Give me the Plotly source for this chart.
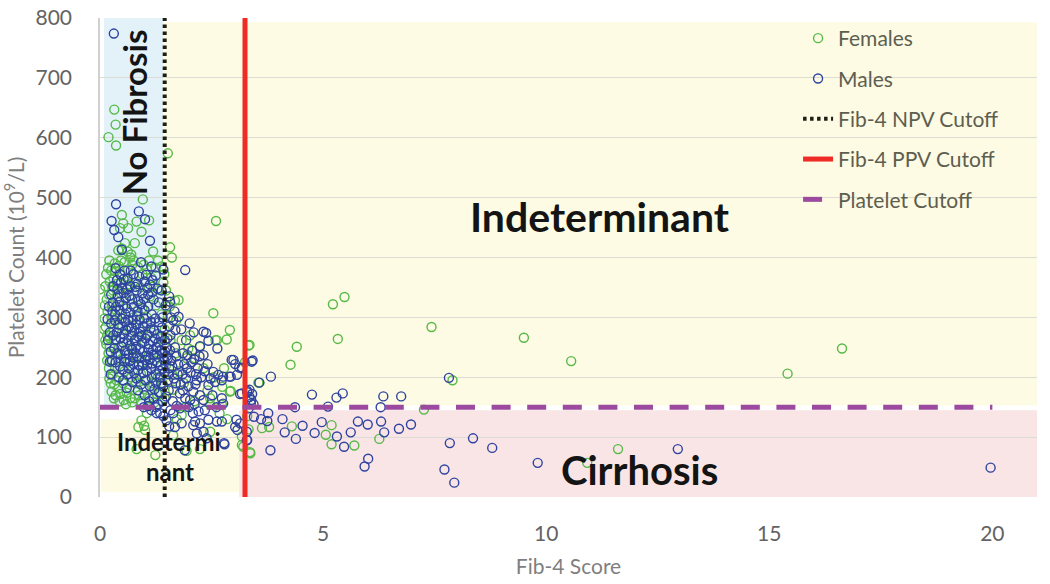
import plotly.graph_objects as go

# ---------------- data ----------------
npv_cutoff = 1.45
ppv_cutoff = 3.25
platelet_cutoff = 150

x_ticks = [0, 5, 10, 15, 20]
y_ticks = [0, 100, 200, 300, 400, 500, 600, 700, 800]

females = [
    (0.32, 647), (0.35, 622), (0.19, 601), (0.36, 587), (1.52, 574), (0.96, 497), (2.60, 461),
    (0.49, 471), (0.52, 457), (0.63, 449), (0.45, 449), (0.82, 460), (1.10, 462), (0.93, 443),
    (0.56, 424), (0.78, 424), (0.41, 412), (0.49, 415), (0.70, 405),
    (1.57, 417), (1.61, 400), (0.00, 347), (1.68, 328), (2.54, 307), (2.91, 279), (2.84, 263),
    (2.02, 270), (2.59, 262), (3.33, 253), (3.55, 191), (2.93, 177), (2.74, 184), (2.47, 154),
    (3.18, 101), (3.18, 87), (3.36, 75), (1.94, 77), (2.24, 80), (2.47, 109), (1.64, 103),
    (0.82, 80), (1.24, 70), (0.86, 117), (0.93, 128), (1.01, 112), (0.99, 119), (1.05, 140),
    (1.76, 329), (1.50, 318), (2.06, 245), (1.94, 232), (2.24, 251), (2.62, 262), (2.91, 176),
    (2.47, 165), (2.73, 154), (1.83, 137), (1.64, 179),
    (3.35, 254), (3.25, 225), (5.22, 322), (5.48, 334), (5.33, 264), (4.41, 251), (4.27, 221),
    (3.57, 191), (3.79, 117), (3.63, 115), (3.33, 113), (4.30, 118), (5.19, 120), (5.06, 104),
    (5.19, 88), (5.70, 86), (6.26, 97), (3.37, 73), (3.21, 84), (3.30, 135),
    (7.43, 284), (9.50, 266), (10.56, 227), (7.90, 195), (7.26, 146), (11.61, 80), (10.92, 57),
    (16.63, 248), (15.41, 206),
    (0.18, 383), (0.25, 378), (0.33, 390), (0.42, 386), (0.55, 392), (0.63, 380), (0.72, 388),
    (0.85, 384), (0.95, 372), (1.05, 380), (1.15, 366), (1.25, 383), (0.68, 400),
    (0.30, 365), (0.48, 370), (0.12, 352), (0.22, 360), (0.38, 356), (0.58, 362), (0.78, 358),
    (0.90, 350), (1.20, 352), (1.32, 346), (1.42, 358),
    (0.13, 284), (0.22, 265), (0.22, 251), (0.34, 215), (0.37, 195), (0.41, 181), (0.60, 174),
    (0.78, 165), (0.17, 310), (0.10, 298), (0.15, 330), (0.20, 338), (0.27, 320), (0.16, 270),
    (0.19, 240), (0.25, 228), (0.28, 205), (0.32, 188), (0.45, 172), (0.52, 190), (0.66, 182),
    (0.88, 170), (0.98, 180), (1.10, 165), (1.22, 158), (1.35, 175),
    (0.26, 300), (0.31, 280), (0.35, 262), (0.29, 345), (0.40, 325), (0.45, 305), (0.50, 285),
    (0.43, 250), (0.48, 230), (0.55, 210), (0.62, 225), (0.70, 200), (0.80, 190), (0.92, 205),
    (1.05, 195), (1.18, 190), (1.30, 200), (1.40, 190),
    (0.60, 340), (0.70, 322), (0.75, 300), (0.85, 330), (0.95, 315), (1.05, 300), (1.12, 335),
    (1.25, 320), (1.38, 305), (1.45, 280), (1.35, 265), (1.28, 250), (1.15, 275), (1.00, 260),
    (0.88, 280), (0.65, 270), (0.58, 245), (0.72, 248), (0.82, 232), (0.95, 225), (1.08, 235),
    (1.22, 228), (1.40, 240), (1.48, 220), (1.52, 300), (1.58, 262), (1.70, 240), (1.62, 205),
    (1.78, 210), (1.88, 190),
    (0.20, 215), (0.24, 190), (0.35, 170), (0.53, 162), (0.14, 255), (0.38, 300), (0.47, 340),
    (0.36, 240), (0.66, 355), (1.10, 395), (1.38, 385),
    (0.14, 372), (0.21, 395), (0.27, 352), (0.34, 377), (0.11, 320), (0.09, 280), (0.12, 262),
    (0.16, 228), (0.21, 198), (0.26, 176), (0.31, 165), (0.44, 160), (0.58, 155), (0.72, 158),
    (0.47, 395), (0.62, 410), (0.75, 395), (0.98, 388), (1.19, 410), (1.30, 395), (1.44, 372),
    (1.48, 345), (1.56, 318), (1.71, 295), (1.83, 262), (1.98, 248), (2.12, 232), (2.32, 215),
    (2.55, 200), (2.78, 215), (2.41, 178), (2.12, 160), (1.91, 150), (2.68, 140), (2.85, 130),
    (1.72, 130), (0.92, 160), (0.68, 165), (1.28, 172), (1.45, 165),
]

males = [
    (0.31, 774), (0.36, 489), (0.87, 477), (0.26, 461), (0.32, 446), (0.41, 434), (1.01, 464),
    (1.12, 428), (0.49, 413), (1.91, 379),
    (1.57, 326), (1.76, 301), (1.64, 295), (2.38, 274), (2.43, 261), (2.24, 252), (2.63, 248),
    (2.07, 244), (1.96, 237), (2.23, 235), (2.32, 237), (2.95, 229), (3.03, 222), (3.42, 228),
    (3.18, 215), (2.54, 209), (2.65, 204), (2.76, 201), (2.90, 201), (3.07, 204), (2.58, 192),
    (2.73, 165), (2.76, 156), (3.14, 172), (3.30, 175), (3.35, 167), (3.38, 156), (3.33, 148),
    (2.17, 195), (2.43, 187), (2.09, 176), (2.24, 170), (2.32, 162), (1.79, 173), (1.91, 165),
    (2.02, 162), (1.64, 140), (1.79, 148), (2.08, 140), (2.13, 126), (2.24, 123), (2.09, 120),
    (2.43, 129), (2.62, 126), (2.73, 126), (1.68, 117), (1.83, 123), (3.06, 129), (3.14, 123),
    (3.03, 117), (3.08, 112), (3.29, 109), (3.30, 95), (2.78, 90), (2.17, 106), (2.32, 109),
    (2.39, 98), (2.79, 88), (1.90, 78), (1.27, 140), (1.35, 140),
    (2.32, 276), (2.99, 229), (3.12, 216), (2.93, 201), (2.73, 195), (3.35, 179),
    (3.40, 226), (3.18, 216), (3.83, 201), (3.57, 191), (3.30, 177), (3.41, 172), (3.18, 173),
    (3.39, 162), (3.44, 155), (4.75, 171), (5.30, 166), (5.44, 173), (4.37, 150), (5.11, 151),
    (6.35, 168), (6.75, 168), (6.29, 150), (3.77, 140), (3.45, 134), (3.61, 130), (3.75, 127),
    (4.09, 130), (4.54, 119), (4.14, 108), (4.39, 97), (4.97, 125), (4.81, 107), (5.31, 101),
    (5.47, 84), (5.62, 108), (5.78, 126), (6.00, 121), (6.30, 126), (6.37, 108), (6.70, 114),
    (6.97, 121), (6.01, 64), (5.93, 51), (3.82, 78), (3.29, 95),
    (7.82, 199), (7.84, 90), (8.36, 98), (8.79, 82), (7.72, 46), (7.94, 24), (9.81, 57),
    (12.95, 80), (19.96, 49),
    (0.17, 297), (0.22, 226), (0.24, 243), (0.22, 275), (0.18, 262), (0.27, 228), (0.24, 205),
    (0.35, 382), (0.45, 372), (0.55, 378), (0.62, 365), (0.75, 372), (0.88, 368), (1.00, 360),
    (1.12, 355), (1.25, 370), (1.38, 345), (0.30, 352), (0.50, 348), (0.68, 352), (0.82, 345),
    (0.95, 340), (1.08, 338), (1.20, 330), (1.32, 325), (0.25, 338), (0.40, 335), (0.58, 332),
    (0.72, 330), (1.15, 385), (0.92, 392), (1.42, 380),
    (0.20, 318), (0.28, 310), (0.36, 318), (0.44, 312), (0.52, 320), (0.60, 315), (0.68, 308),
    (0.76, 318), (0.84, 310), (0.92, 322), (1.00, 312), (1.08, 318), (1.16, 305), (1.24, 298),
    (1.32, 292), (1.40, 300),
    (0.25, 290), (0.33, 295), (0.41, 288), (0.49, 298), (0.57, 292), (0.65, 285), (0.73, 295),
    (0.81, 288), (0.89, 296), (0.97, 285), (1.05, 290), (1.13, 282), (1.21, 278), (1.29, 272),
    (1.37, 268), (1.45, 262),
    (0.30, 270), (0.38, 275), (0.46, 265), (0.54, 272), (0.62, 262), (0.70, 270), (0.78, 262),
    (0.86, 268), (0.94, 258), (1.02, 265), (1.10, 255), (1.18, 260), (1.26, 250), (1.34, 245),
    (1.42, 240), (1.50, 250),
    (0.32, 248), (0.40, 240), (0.48, 252), (0.56, 244), (0.64, 238), (0.72, 246), (0.80, 240),
    (0.88, 232), (0.96, 242), (1.04, 236), (1.12, 230), (1.20, 238), (1.28, 225), (1.36, 220),
    (1.44, 228), (1.52, 232),
    (0.35, 225), (0.45, 218), (0.55, 226), (0.65, 215), (0.75, 222), (0.85, 212), (0.95, 220),
    (1.05, 210), (1.15, 215), (1.25, 205), (1.35, 200), (1.45, 208), (1.55, 215),
    (0.42, 200), (0.52, 195), (0.62, 205), (0.72, 192), (0.82, 198), (0.92, 188), (1.02, 195),
    (1.12, 185), (1.22, 180), (1.32, 175), (1.42, 185), (1.52, 195), (1.60, 228), (1.68, 250),
    (1.58, 270), (1.55, 285),
    (0.60, 182), (0.85, 178), (1.00, 170), (1.10, 160), (1.20, 165), (1.30, 155), (1.40, 160),
    (1.48, 168), (1.70, 190), (1.85, 205), (1.75, 222), (1.95, 215), (2.05, 225), (2.15, 205),
    (0.47, 358), (0.53, 341), (0.61, 347), (0.66, 336), (0.79, 351), (0.86, 327), (0.98, 331),
    (1.06, 349), (1.17, 342), (1.29, 348), (0.38, 362), (0.44, 326), (0.57, 305), (0.63, 296),
    (0.71, 283), (0.77, 277), (0.83, 302), (0.91, 276), (0.99, 298), (1.07, 271), (1.14, 293),
    (1.19, 246), (1.23, 265), (1.31, 258), (1.39, 283), (1.46, 243), (0.52, 258), (0.59, 279),
    (0.67, 253), (0.74, 233), (0.81, 251), (0.89, 247), (0.93, 269), (1.01, 229), (1.09, 247),
    (1.17, 223), (1.27, 238), (1.33, 211), (1.41, 214), (0.46, 238), (0.51, 213), (0.58, 231),
    (0.67, 227), (0.77, 207), (0.87, 221), (0.97, 207), (1.06, 221), (1.16, 199), (1.26, 191),
    (1.37, 190), (0.43, 282), (0.36, 263), (0.34, 305), (0.29, 325), (0.39, 347), (0.53, 364),
    (0.69, 378), (0.84, 356), (1.03, 371), (1.18, 362),
    (1.49, 235), (1.53, 205), (1.57, 245), (1.62, 218), (1.66, 198), (1.71, 235), (1.74, 205),
    (1.81, 188), (1.86, 240), (1.89, 222), (1.93, 198), (1.98, 185), (2.03, 208), (2.11, 230),
    (2.14, 188), (2.19, 215), (2.27, 200), (2.35, 210), (2.41, 222), (2.48, 198), (1.54, 178),
    (1.63, 160), (1.72, 152), (1.86, 178), (1.99, 150), (2.12, 155), (2.21, 143), (2.35, 145),
    (2.52, 170), (2.61, 150), (1.51, 265), (1.59, 300), (1.67, 310), (1.82, 280), (1.93, 262),
    (2.01, 290), (2.10, 275), (1.47, 320), (1.55, 335), (1.69, 279),
    (1.15, 145), (1.25, 150), (1.42, 135), (1.49, 128), (1.55, 118), (1.58, 145), (0.98, 150),
    (1.08, 152),
]

female_fib4 = [p[0] for p in females]
female_platelets = [p[1] for p in females]
male_fib4 = [p[0] for p in males]
male_platelets = [p[1] for p in males]

# ---------------- styling ----------------
FONT = "Lato"
GREEN = "#56B948"
BLUE = "#2E43A0"
TICK_GRAY = "#636363"
TITLE_GRAY = "#7F7F7F"

fig = go.Figure()

marker_common = dict(symbol="circle-open", size=9)
fig.add_trace(go.Scatter(
    x=female_fib4, y=female_platelets, mode="markers", name="Females",
    legendgroup="f",
    marker=dict(**marker_common, color=GREEN, line=dict(width=1.4, color=GREEN)),
))
fig.add_trace(go.Scatter(
    x=male_fib4, y=male_platelets, mode="markers", name="Males",
    legendgroup="m",
    marker=dict(**marker_common, color=BLUE, line=dict(width=1.4, color=BLUE)),
))
fig.add_trace(go.Scatter(
    x=[npv_cutoff, npv_cutoff], y=[0, 800], mode="lines", name="Fib-4 NPV Cutoff",
    legendgroup="n",
    line=dict(color="#1E1E14", width=4, dash="3.5px,3.5px"),
))
fig.add_trace(go.Scatter(
    x=[ppv_cutoff, ppv_cutoff], y=[0, 800], mode="lines", name="Fib-4 PPV Cutoff",
    legendgroup="p",
    line=dict(color="#EE2B24", width=5),
))
fig.add_trace(go.Scatter(
    x=[0, 20], y=[platelet_cutoff, platelet_cutoff], mode="lines", name="Platelet Cutoff",
    legendgroup="c",
    line=dict(color="#9C4A9F", width=5, dash="19px,16.6px"),
))

# background region rectangles
shapes = [
    dict(type="rect", xref="x", yref="y", x0=0.09, x1=1.42, y0=platelet_cutoff, y1=805,
         fillcolor="#E3F2F9", line=dict(width=0), layer="below"),
    dict(type="rect", xref="x", yref="y", x0=1.42, x1=21, y0=153, y1=793,
         fillcolor="#FDFBE3", line=dict(width=0), layer="below"),
    dict(type="rect", xref="x", yref="y", x0=0.02, x1=3.12, y0=8, y1=130,
         fillcolor="#FDFBE3", line=dict(width=0), layer="below"),
    dict(type="rect", xref="x", yref="y", x0=3.12, x1=21.1, y0=-6, y1=145,
         fillcolor="#F9E5E5", line=dict(width=0), layer="below"),
]

annotations = [
    dict(x=0.77, y=643, text="<b>No Fibrosis</b>", textangle=-90, showarrow=False,
         font=dict(family=FONT, size=33, color="#141414")),
    dict(x=11.2, y=469, text="<b>Indeterminant</b>", showarrow=False,
         font=dict(family=FONT, size=41, color="#141414")),
    dict(x=1.55, y=92, text="<b>Indetermi</b>", showarrow=False,
         font=dict(family=FONT, size=24, color="#141414")),
    dict(x=1.57, y=42, text="<b>nant</b>", showarrow=False,
         font=dict(family=FONT, size=24, color="#141414")),
    dict(x=12.08, y=45, text="<b>Cirrhosis</b>", showarrow=False,
         font=dict(family=FONT, size=40, color="#141414")),
]

fig.update_layout(
    width=1050, height=584,
    margin=dict(l=100, r=13, t=18, b=87),
    paper_bgcolor="white", plot_bgcolor="white",
    font=dict(family=FONT, color=TICK_GRAY),
    shapes=shapes, annotations=annotations,
    showlegend=True,
    legend=dict(
        x=0.745, y=1.0, xanchor="left", yanchor="top",
        bgcolor="rgba(0,0,0,0)", font=dict(family=FONT, size=21, color="#5E5E50"),
        tracegroupgap=10,
    ),
    xaxis=dict(
        range=[0, 21], tickvals=x_ticks, showgrid=False, zeroline=False,
        showline=False, ticks="", ticklabelstandoff=22, automargin=False,
        ticklabeloverflow="allow",
        tickfont=dict(family=FONT, size=21, color=TICK_GRAY),
        title=dict(text="Fib-4 Score", font=dict(family=FONT, size=21, color=TITLE_GRAY), standoff=15),
    ),
    yaxis=dict(
        range=[0, 800], tickvals=y_ticks, showgrid=True, gridcolor="#DCDCD4", gridwidth=1.2,
        zeroline=False, showline=True, linecolor="#D0D0D0", linewidth=1.5, ticks="",
        ticklabelstandoff=22, automargin=False, ticklabeloverflow="allow",
        tickfont=dict(family=FONT, size=21, color=TICK_GRAY),
        title=dict(text="Platelet Count (10<sup>9</sup>/L)",
                   font=dict(family=FONT, size=21, color=TITLE_GRAY), standoff=9),
    ),
)

# remove the browser's default 8px body margin so the figure fills the window exactly
fig.write_html("out.html", config={"displayModeBar": False},
               post_script="document.body.style.margin='0';")
